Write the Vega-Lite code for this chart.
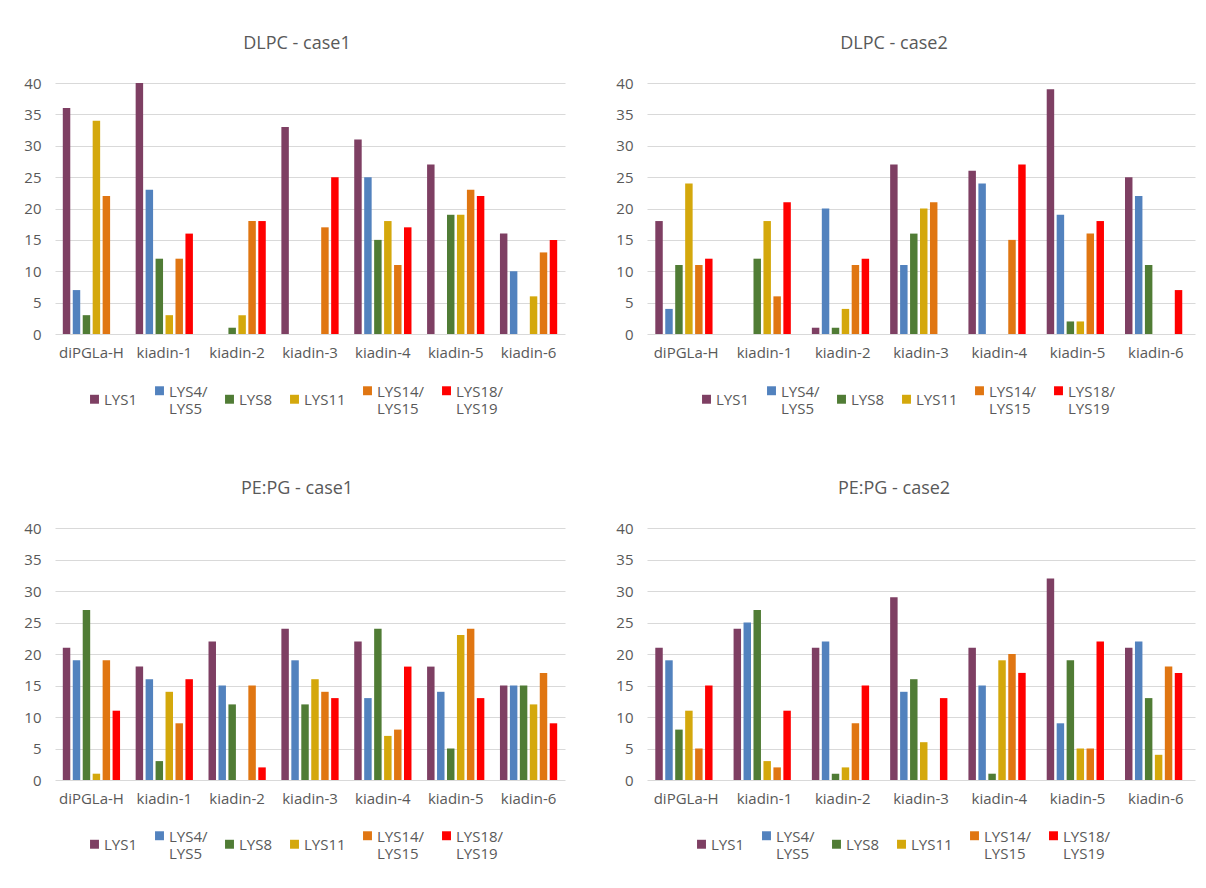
{
  "$schema": "https://vega.github.io/schema/vega-lite/v6.json",
  "background": "white",
  "padding": {"left": 23, "top": 35, "right": 5, "bottom": 5},
  "autosize": {"type": "pad"},
  "columns": 2,
  "spacing": {"row": 194, "column": 82},
  "bounds": "flush",
  "datasets": {
    "d": [
      {"panel": "DLPC - case1", "pep": "diPGLa-H", "lys": "LYS1", "value": 36},
      {"panel": "DLPC - case1", "pep": "diPGLa-H", "lys": "LYS4/LYS5", "value": 7},
      {"panel": "DLPC - case1", "pep": "diPGLa-H", "lys": "LYS8", "value": 3},
      {"panel": "DLPC - case1", "pep": "diPGLa-H", "lys": "LYS11", "value": 34},
      {"panel": "DLPC - case1", "pep": "diPGLa-H", "lys": "LYS14/LYS15", "value": 22},
      {"panel": "DLPC - case1", "pep": "kiadin-1", "lys": "LYS1", "value": 40},
      {"panel": "DLPC - case1", "pep": "kiadin-1", "lys": "LYS4/LYS5", "value": 23},
      {"panel": "DLPC - case1", "pep": "kiadin-1", "lys": "LYS8", "value": 12},
      {"panel": "DLPC - case1", "pep": "kiadin-1", "lys": "LYS11", "value": 3},
      {"panel": "DLPC - case1", "pep": "kiadin-1", "lys": "LYS14/LYS15", "value": 12},
      {"panel": "DLPC - case1", "pep": "kiadin-1", "lys": "LYS18/LYS19", "value": 16},
      {"panel": "DLPC - case1", "pep": "kiadin-2", "lys": "LYS8", "value": 1},
      {"panel": "DLPC - case1", "pep": "kiadin-2", "lys": "LYS11", "value": 3},
      {"panel": "DLPC - case1", "pep": "kiadin-2", "lys": "LYS14/LYS15", "value": 18},
      {"panel": "DLPC - case1", "pep": "kiadin-2", "lys": "LYS18/LYS19", "value": 18},
      {"panel": "DLPC - case1", "pep": "kiadin-3", "lys": "LYS1", "value": 33},
      {"panel": "DLPC - case1", "pep": "kiadin-3", "lys": "LYS14/LYS15", "value": 17},
      {"panel": "DLPC - case1", "pep": "kiadin-3", "lys": "LYS18/LYS19", "value": 25},
      {"panel": "DLPC - case1", "pep": "kiadin-4", "lys": "LYS1", "value": 31},
      {"panel": "DLPC - case1", "pep": "kiadin-4", "lys": "LYS4/LYS5", "value": 25},
      {"panel": "DLPC - case1", "pep": "kiadin-4", "lys": "LYS8", "value": 15},
      {"panel": "DLPC - case1", "pep": "kiadin-4", "lys": "LYS11", "value": 18},
      {"panel": "DLPC - case1", "pep": "kiadin-4", "lys": "LYS14/LYS15", "value": 11},
      {"panel": "DLPC - case1", "pep": "kiadin-4", "lys": "LYS18/LYS19", "value": 17},
      {"panel": "DLPC - case1", "pep": "kiadin-5", "lys": "LYS1", "value": 27},
      {"panel": "DLPC - case1", "pep": "kiadin-5", "lys": "LYS8", "value": 19},
      {"panel": "DLPC - case1", "pep": "kiadin-5", "lys": "LYS11", "value": 19},
      {"panel": "DLPC - case1", "pep": "kiadin-5", "lys": "LYS14/LYS15", "value": 23},
      {"panel": "DLPC - case1", "pep": "kiadin-5", "lys": "LYS18/LYS19", "value": 22},
      {"panel": "DLPC - case1", "pep": "kiadin-6", "lys": "LYS1", "value": 16},
      {"panel": "DLPC - case1", "pep": "kiadin-6", "lys": "LYS4/LYS5", "value": 10},
      {"panel": "DLPC - case1", "pep": "kiadin-6", "lys": "LYS11", "value": 6},
      {"panel": "DLPC - case1", "pep": "kiadin-6", "lys": "LYS14/LYS15", "value": 13},
      {"panel": "DLPC - case1", "pep": "kiadin-6", "lys": "LYS18/LYS19", "value": 15},

      {"panel": "DLPC - case2", "pep": "diPGLa-H", "lys": "LYS1", "value": 18},
      {"panel": "DLPC - case2", "pep": "diPGLa-H", "lys": "LYS4/LYS5", "value": 4},
      {"panel": "DLPC - case2", "pep": "diPGLa-H", "lys": "LYS8", "value": 11},
      {"panel": "DLPC - case2", "pep": "diPGLa-H", "lys": "LYS11", "value": 24},
      {"panel": "DLPC - case2", "pep": "diPGLa-H", "lys": "LYS14/LYS15", "value": 11},
      {"panel": "DLPC - case2", "pep": "diPGLa-H", "lys": "LYS18/LYS19", "value": 12},
      {"panel": "DLPC - case2", "pep": "kiadin-1", "lys": "LYS8", "value": 12},
      {"panel": "DLPC - case2", "pep": "kiadin-1", "lys": "LYS11", "value": 18},
      {"panel": "DLPC - case2", "pep": "kiadin-1", "lys": "LYS14/LYS15", "value": 6},
      {"panel": "DLPC - case2", "pep": "kiadin-1", "lys": "LYS18/LYS19", "value": 21},
      {"panel": "DLPC - case2", "pep": "kiadin-2", "lys": "LYS1", "value": 1},
      {"panel": "DLPC - case2", "pep": "kiadin-2", "lys": "LYS4/LYS5", "value": 20},
      {"panel": "DLPC - case2", "pep": "kiadin-2", "lys": "LYS8", "value": 1},
      {"panel": "DLPC - case2", "pep": "kiadin-2", "lys": "LYS11", "value": 4},
      {"panel": "DLPC - case2", "pep": "kiadin-2", "lys": "LYS14/LYS15", "value": 11},
      {"panel": "DLPC - case2", "pep": "kiadin-2", "lys": "LYS18/LYS19", "value": 12},
      {"panel": "DLPC - case2", "pep": "kiadin-3", "lys": "LYS1", "value": 27},
      {"panel": "DLPC - case2", "pep": "kiadin-3", "lys": "LYS4/LYS5", "value": 11},
      {"panel": "DLPC - case2", "pep": "kiadin-3", "lys": "LYS8", "value": 16},
      {"panel": "DLPC - case2", "pep": "kiadin-3", "lys": "LYS11", "value": 20},
      {"panel": "DLPC - case2", "pep": "kiadin-3", "lys": "LYS14/LYS15", "value": 21},
      {"panel": "DLPC - case2", "pep": "kiadin-4", "lys": "LYS1", "value": 26},
      {"panel": "DLPC - case2", "pep": "kiadin-4", "lys": "LYS4/LYS5", "value": 24},
      {"panel": "DLPC - case2", "pep": "kiadin-4", "lys": "LYS14/LYS15", "value": 15},
      {"panel": "DLPC - case2", "pep": "kiadin-4", "lys": "LYS18/LYS19", "value": 27},
      {"panel": "DLPC - case2", "pep": "kiadin-5", "lys": "LYS1", "value": 39},
      {"panel": "DLPC - case2", "pep": "kiadin-5", "lys": "LYS4/LYS5", "value": 19},
      {"panel": "DLPC - case2", "pep": "kiadin-5", "lys": "LYS8", "value": 2},
      {"panel": "DLPC - case2", "pep": "kiadin-5", "lys": "LYS11", "value": 2},
      {"panel": "DLPC - case2", "pep": "kiadin-5", "lys": "LYS14/LYS15", "value": 16},
      {"panel": "DLPC - case2", "pep": "kiadin-5", "lys": "LYS18/LYS19", "value": 18},
      {"panel": "DLPC - case2", "pep": "kiadin-6", "lys": "LYS1", "value": 25},
      {"panel": "DLPC - case2", "pep": "kiadin-6", "lys": "LYS4/LYS5", "value": 22},
      {"panel": "DLPC - case2", "pep": "kiadin-6", "lys": "LYS8", "value": 11},
      {"panel": "DLPC - case2", "pep": "kiadin-6", "lys": "LYS18/LYS19", "value": 7},

      {"panel": "PE:PG - case1", "pep": "diPGLa-H", "lys": "LYS1", "value": 21},
      {"panel": "PE:PG - case1", "pep": "diPGLa-H", "lys": "LYS4/LYS5", "value": 19},
      {"panel": "PE:PG - case1", "pep": "diPGLa-H", "lys": "LYS8", "value": 27},
      {"panel": "PE:PG - case1", "pep": "diPGLa-H", "lys": "LYS11", "value": 1},
      {"panel": "PE:PG - case1", "pep": "diPGLa-H", "lys": "LYS14/LYS15", "value": 19},
      {"panel": "PE:PG - case1", "pep": "diPGLa-H", "lys": "LYS18/LYS19", "value": 11},
      {"panel": "PE:PG - case1", "pep": "kiadin-1", "lys": "LYS1", "value": 18},
      {"panel": "PE:PG - case1", "pep": "kiadin-1", "lys": "LYS4/LYS5", "value": 16},
      {"panel": "PE:PG - case1", "pep": "kiadin-1", "lys": "LYS8", "value": 3},
      {"panel": "PE:PG - case1", "pep": "kiadin-1", "lys": "LYS11", "value": 14},
      {"panel": "PE:PG - case1", "pep": "kiadin-1", "lys": "LYS14/LYS15", "value": 9},
      {"panel": "PE:PG - case1", "pep": "kiadin-1", "lys": "LYS18/LYS19", "value": 16},
      {"panel": "PE:PG - case1", "pep": "kiadin-2", "lys": "LYS1", "value": 22},
      {"panel": "PE:PG - case1", "pep": "kiadin-2", "lys": "LYS4/LYS5", "value": 15},
      {"panel": "PE:PG - case1", "pep": "kiadin-2", "lys": "LYS8", "value": 12},
      {"panel": "PE:PG - case1", "pep": "kiadin-2", "lys": "LYS14/LYS15", "value": 15},
      {"panel": "PE:PG - case1", "pep": "kiadin-2", "lys": "LYS18/LYS19", "value": 2},
      {"panel": "PE:PG - case1", "pep": "kiadin-3", "lys": "LYS1", "value": 24},
      {"panel": "PE:PG - case1", "pep": "kiadin-3", "lys": "LYS4/LYS5", "value": 19},
      {"panel": "PE:PG - case1", "pep": "kiadin-3", "lys": "LYS8", "value": 12},
      {"panel": "PE:PG - case1", "pep": "kiadin-3", "lys": "LYS11", "value": 16},
      {"panel": "PE:PG - case1", "pep": "kiadin-3", "lys": "LYS14/LYS15", "value": 14},
      {"panel": "PE:PG - case1", "pep": "kiadin-3", "lys": "LYS18/LYS19", "value": 13},
      {"panel": "PE:PG - case1", "pep": "kiadin-4", "lys": "LYS1", "value": 22},
      {"panel": "PE:PG - case1", "pep": "kiadin-4", "lys": "LYS4/LYS5", "value": 13},
      {"panel": "PE:PG - case1", "pep": "kiadin-4", "lys": "LYS8", "value": 24},
      {"panel": "PE:PG - case1", "pep": "kiadin-4", "lys": "LYS11", "value": 7},
      {"panel": "PE:PG - case1", "pep": "kiadin-4", "lys": "LYS14/LYS15", "value": 8},
      {"panel": "PE:PG - case1", "pep": "kiadin-4", "lys": "LYS18/LYS19", "value": 18},
      {"panel": "PE:PG - case1", "pep": "kiadin-5", "lys": "LYS1", "value": 18},
      {"panel": "PE:PG - case1", "pep": "kiadin-5", "lys": "LYS4/LYS5", "value": 14},
      {"panel": "PE:PG - case1", "pep": "kiadin-5", "lys": "LYS8", "value": 5},
      {"panel": "PE:PG - case1", "pep": "kiadin-5", "lys": "LYS11", "value": 23},
      {"panel": "PE:PG - case1", "pep": "kiadin-5", "lys": "LYS14/LYS15", "value": 24},
      {"panel": "PE:PG - case1", "pep": "kiadin-5", "lys": "LYS18/LYS19", "value": 13},
      {"panel": "PE:PG - case1", "pep": "kiadin-6", "lys": "LYS1", "value": 15},
      {"panel": "PE:PG - case1", "pep": "kiadin-6", "lys": "LYS4/LYS5", "value": 15},
      {"panel": "PE:PG - case1", "pep": "kiadin-6", "lys": "LYS8", "value": 15},
      {"panel": "PE:PG - case1", "pep": "kiadin-6", "lys": "LYS11", "value": 12},
      {"panel": "PE:PG - case1", "pep": "kiadin-6", "lys": "LYS14/LYS15", "value": 17},
      {"panel": "PE:PG - case1", "pep": "kiadin-6", "lys": "LYS18/LYS19", "value": 9},

      {"panel": "PE:PG - case2", "pep": "diPGLa-H", "lys": "LYS1", "value": 21},
      {"panel": "PE:PG - case2", "pep": "diPGLa-H", "lys": "LYS4/LYS5", "value": 19},
      {"panel": "PE:PG - case2", "pep": "diPGLa-H", "lys": "LYS8", "value": 8},
      {"panel": "PE:PG - case2", "pep": "diPGLa-H", "lys": "LYS11", "value": 11},
      {"panel": "PE:PG - case2", "pep": "diPGLa-H", "lys": "LYS14/LYS15", "value": 5},
      {"panel": "PE:PG - case2", "pep": "diPGLa-H", "lys": "LYS18/LYS19", "value": 15},
      {"panel": "PE:PG - case2", "pep": "kiadin-1", "lys": "LYS1", "value": 24},
      {"panel": "PE:PG - case2", "pep": "kiadin-1", "lys": "LYS4/LYS5", "value": 25},
      {"panel": "PE:PG - case2", "pep": "kiadin-1", "lys": "LYS8", "value": 27},
      {"panel": "PE:PG - case2", "pep": "kiadin-1", "lys": "LYS11", "value": 3},
      {"panel": "PE:PG - case2", "pep": "kiadin-1", "lys": "LYS14/LYS15", "value": 2},
      {"panel": "PE:PG - case2", "pep": "kiadin-1", "lys": "LYS18/LYS19", "value": 11},
      {"panel": "PE:PG - case2", "pep": "kiadin-2", "lys": "LYS1", "value": 21},
      {"panel": "PE:PG - case2", "pep": "kiadin-2", "lys": "LYS4/LYS5", "value": 22},
      {"panel": "PE:PG - case2", "pep": "kiadin-2", "lys": "LYS8", "value": 1},
      {"panel": "PE:PG - case2", "pep": "kiadin-2", "lys": "LYS11", "value": 2},
      {"panel": "PE:PG - case2", "pep": "kiadin-2", "lys": "LYS14/LYS15", "value": 9},
      {"panel": "PE:PG - case2", "pep": "kiadin-2", "lys": "LYS18/LYS19", "value": 15},
      {"panel": "PE:PG - case2", "pep": "kiadin-3", "lys": "LYS1", "value": 29},
      {"panel": "PE:PG - case2", "pep": "kiadin-3", "lys": "LYS4/LYS5", "value": 14},
      {"panel": "PE:PG - case2", "pep": "kiadin-3", "lys": "LYS8", "value": 16},
      {"panel": "PE:PG - case2", "pep": "kiadin-3", "lys": "LYS11", "value": 6},
      {"panel": "PE:PG - case2", "pep": "kiadin-3", "lys": "LYS18/LYS19", "value": 13},
      {"panel": "PE:PG - case2", "pep": "kiadin-4", "lys": "LYS1", "value": 21},
      {"panel": "PE:PG - case2", "pep": "kiadin-4", "lys": "LYS4/LYS5", "value": 15},
      {"panel": "PE:PG - case2", "pep": "kiadin-4", "lys": "LYS8", "value": 1},
      {"panel": "PE:PG - case2", "pep": "kiadin-4", "lys": "LYS11", "value": 19},
      {"panel": "PE:PG - case2", "pep": "kiadin-4", "lys": "LYS14/LYS15", "value": 20},
      {"panel": "PE:PG - case2", "pep": "kiadin-4", "lys": "LYS18/LYS19", "value": 17},
      {"panel": "PE:PG - case2", "pep": "kiadin-5", "lys": "LYS1", "value": 32},
      {"panel": "PE:PG - case2", "pep": "kiadin-5", "lys": "LYS4/LYS5", "value": 9},
      {"panel": "PE:PG - case2", "pep": "kiadin-5", "lys": "LYS8", "value": 19},
      {"panel": "PE:PG - case2", "pep": "kiadin-5", "lys": "LYS11", "value": 5},
      {"panel": "PE:PG - case2", "pep": "kiadin-5", "lys": "LYS14/LYS15", "value": 5},
      {"panel": "PE:PG - case2", "pep": "kiadin-5", "lys": "LYS18/LYS19", "value": 22},
      {"panel": "PE:PG - case2", "pep": "kiadin-6", "lys": "LYS1", "value": 21},
      {"panel": "PE:PG - case2", "pep": "kiadin-6", "lys": "LYS4/LYS5", "value": 22},
      {"panel": "PE:PG - case2", "pep": "kiadin-6", "lys": "LYS8", "value": 13},
      {"panel": "PE:PG - case2", "pep": "kiadin-6", "lys": "LYS11", "value": 4},
      {"panel": "PE:PG - case2", "pep": "kiadin-6", "lys": "LYS14/LYS15", "value": 18},
      {"panel": "PE:PG - case2", "pep": "kiadin-6", "lys": "LYS18/LYS19", "value": 17}
    ]
  },
  "data": {"name": "d"},
  "concat": [
    {
      "title": {"text": "DLPC - case1", "dx": -13},
      "width": 510, "height": 251,
      "transform": [{"filter": "datum.panel === 'DLPC - case1'"}],
      "mark": {"type": "bar"},
      "encoding": {
        "x": {"field": "pep", "type": "nominal", "scale": {"domain": ["diPGLa-H","kiadin-1","kiadin-2","kiadin-3","kiadin-4","kiadin-5","kiadin-6"], "paddingInner": 0.18, "paddingOuter": 0.09}, "axis": {"title": null}},
        "xOffset": {"field": "lys", "type": "nominal", "scale": {"domain": ["LYS1","LYS4/LYS5","LYS8","LYS11","LYS14/LYS15","LYS18/LYS19"], "paddingInner": 0.25, "paddingOuter": 0.125}},
        "y": {"field": "value", "type": "quantitative", "scale": {"domain": [0, 40]}, "axis": {"title": null, "values": [0,5,10,15,20,25,30,35,40]}},
        "color": {"field": "lys", "type": "nominal", "scale": {"domain": ["LYS1","LYS4/LYS5","LYS8","LYS11","LYS14/LYS15","LYS18/LYS19"], "range": ["#7E3F63","#5282BE","#507C35","#D4A80C","#E07612","#FF0000"]}, "legend": {"title": null, "orient": "none", "legendX": 32, "legendY": 300, "direction": "horizontal", "columns": 6, "labelExpr": "indexof(datum.label,'/')>0 ? [slice(datum.label,0,indexof(datum.label,'/')+1), slice(datum.label,indexof(datum.label,'/')+1)] : datum.label", "encode": {"labels": {"update": {"dy": {"value": -6}}}}}}
      }
    },
    {
      "title": {"text": "DLPC - case2", "dx": -27},
      "width": 548, "height": 251,
      "transform": [{"filter": "datum.panel === 'DLPC - case2'"}],
      "mark": {"type": "bar"},
      "encoding": {
        "x": {"field": "pep", "type": "nominal", "scale": {"domain": ["diPGLa-H","kiadin-1","kiadin-2","kiadin-3","kiadin-4","kiadin-5","kiadin-6"], "paddingInner": 0.18, "paddingOuter": 0.09}, "axis": {"title": null}},
        "xOffset": {"field": "lys", "type": "nominal", "scale": {"domain": ["LYS1","LYS4/LYS5","LYS8","LYS11","LYS14/LYS15","LYS18/LYS19"], "paddingInner": 0.25, "paddingOuter": 0.125}},
        "y": {"field": "value", "type": "quantitative", "scale": {"domain": [0, 40]}, "axis": {"title": null, "values": [0,5,10,15,20,25,30,35,40]}},
        "color": {"field": "lys", "type": "nominal", "scale": {"domain": ["LYS1","LYS4/LYS5","LYS8","LYS11","LYS14/LYS15","LYS18/LYS19"], "range": ["#7E3F63","#5282BE","#507C35","#D4A80C","#E07612","#FF0000"]}, "legend": {"title": null, "orient": "none", "legendX": 52, "legendY": 300, "direction": "horizontal", "columns": 6, "labelExpr": "indexof(datum.label,'/')>0 ? [slice(datum.label,0,indexof(datum.label,'/')+1), slice(datum.label,indexof(datum.label,'/')+1)] : datum.label", "encode": {"labels": {"update": {"dy": {"value": -6}}}}}}
      }
    },
    {
      "title": {"text": "PE:PG - case1", "dx": -13},
      "width": 510, "height": 252,
      "transform": [{"filter": "datum.panel === 'PE:PG - case1'"}],
      "mark": {"type": "bar"},
      "encoding": {
        "x": {"field": "pep", "type": "nominal", "scale": {"domain": ["diPGLa-H","kiadin-1","kiadin-2","kiadin-3","kiadin-4","kiadin-5","kiadin-6"], "paddingInner": 0.18, "paddingOuter": 0.09}, "axis": {"title": null}},
        "xOffset": {"field": "lys", "type": "nominal", "scale": {"domain": ["LYS1","LYS4/LYS5","LYS8","LYS11","LYS14/LYS15","LYS18/LYS19"], "paddingInner": 0.25, "paddingOuter": 0.125}},
        "y": {"field": "value", "type": "quantitative", "scale": {"domain": [0, 40]}, "axis": {"title": null, "values": [0,5,10,15,20,25,30,35,40]}},
        "color": {"field": "lys", "type": "nominal", "scale": {"domain": ["LYS1","LYS4/LYS5","LYS8","LYS11","LYS14/LYS15","LYS18/LYS19"], "range": ["#7E3F63","#5282BE","#507C35","#D4A80C","#E07612","#FF0000"]}, "legend": {"title": null, "orient": "none", "legendX": 32, "legendY": 300, "direction": "horizontal", "columns": 6, "labelExpr": "indexof(datum.label,'/')>0 ? [slice(datum.label,0,indexof(datum.label,'/')+1), slice(datum.label,indexof(datum.label,'/')+1)] : datum.label", "encode": {"labels": {"update": {"dy": {"value": -6}}}}}}
      }
    },
    {
      "title": {"text": "PE:PG - case2", "dx": -27},
      "width": 548, "height": 252,
      "transform": [{"filter": "datum.panel === 'PE:PG - case2'"}],
      "mark": {"type": "bar"},
      "encoding": {
        "x": {"field": "pep", "type": "nominal", "scale": {"domain": ["diPGLa-H","kiadin-1","kiadin-2","kiadin-3","kiadin-4","kiadin-5","kiadin-6"], "paddingInner": 0.18, "paddingOuter": 0.09}, "axis": {"title": null}},
        "xOffset": {"field": "lys", "type": "nominal", "scale": {"domain": ["LYS1","LYS4/LYS5","LYS8","LYS11","LYS14/LYS15","LYS18/LYS19"], "paddingInner": 0.25, "paddingOuter": 0.125}},
        "y": {"field": "value", "type": "quantitative", "scale": {"domain": [0, 40]}, "axis": {"title": null, "values": [0,5,10,15,20,25,30,35,40]}},
        "color": {"field": "lys", "type": "nominal", "scale": {"domain": ["LYS1","LYS4/LYS5","LYS8","LYS11","LYS14/LYS15","LYS18/LYS19"], "range": ["#7E3F63","#5282BE","#507C35","#D4A80C","#E07612","#FF0000"]}, "legend": {"title": null, "orient": "none", "legendX": 47, "legendY": 300, "direction": "horizontal", "columns": 6, "labelExpr": "indexof(datum.label,'/')>0 ? [slice(datum.label,0,indexof(datum.label,'/')+1), slice(datum.label,indexof(datum.label,'/')+1)] : datum.label", "encode": {"labels": {"update": {"dy": {"value": -6}}}}}}
      }
    }
  ],
  "resolve": {"scale": {"color": "independent"}, "legend": {"color": "independent"}},
  "config": {
    "font": "Open Sans",
    "view": {"stroke": null},
    "title": {"font": "Open Sans", "fontSize": 18, "fontWeight": "normal", "color": "#595959", "anchor": "middle", "offset": 23},
    "axis": {"labelFont": "Open Sans", "labelFontSize": 15, "labelColor": "#595959", "domain": false, "ticks": false, "gridColor": "#d9d9d9", "gridWidth": 1},
    "axisX": {"grid": false, "labelAngle": 0, "labelPadding": 11},
    "axisY": {"labelPadding": 14},
    "legend": {"labelFont": "Open Sans", "labelFontSize": 15, "labelColor": "#595959", "symbolType": "square", "symbolSize": 80, "symbolStrokeWidth": 0, "labelOffset": 2, "columnPadding": 14, "labelBaseline": "top", "labelLimit": 200}
  }
}
